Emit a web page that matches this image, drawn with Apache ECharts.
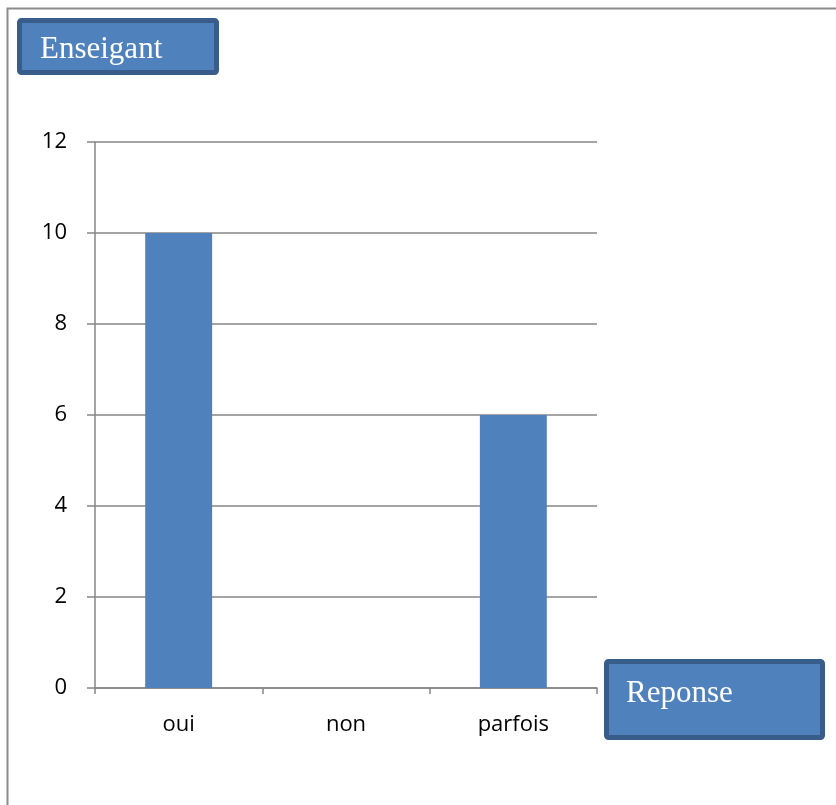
<!DOCTYPE html>
<html>
<head>
    <meta charset="utf-8">
    <title></title>
    <script type="text/javascript" src="https://cdn.jsdelivr.net/npm/echarts@6/dist/echarts.min.js"></script>
    <style>
        html, body { margin: 0; padding: 0; background: #fff; }
    </style>
</head>
<body>

<div id="main" style="width: 836px;height:805px;"></div>
<script type="text/javascript">
    // données
    var categories = ['oui', 'non', 'parfois'];
    var values = [10, 0, 6];
    var yTicks = [0, 2, 4, 6, 8, 10, 12];

    var axisGray = '#868686';
    var boxFill = '#4F81BD';
    var boxStroke = '#385D8A';

    var myChart = echarts.init(document.getElementById('main'));

    option = {
        animation: false,
        grid: {
            left: 95,
            top: 142,
            width: 502,
            height: 546
        },
        xAxis: {
            type: 'category',
            data: categories,
            axisLine: { lineStyle: { color: axisGray, width: 1.5 } },
            axisTick: { show: true, length: 6, lineStyle: { color: axisGray, width: 1.5 } },
            axisLabel: {
                margin: 26,
                color: '#000',
                fontFamily: 'Open Sans',
                fontSize: 22
            }
        },
        yAxis: {
            type: 'value',
            min: yTicks[0],
            max: yTicks[yTicks.length - 1],
            interval: 2,
            axisLine: { show: true, lineStyle: { color: axisGray, width: 1.5 } },
            axisTick: { show: true, length: 8, lineStyle: { color: axisGray, width: 1.5 } },
            splitLine: { lineStyle: { color: axisGray, width: 1.5 } },
            axisLabel: {
                margin: 28,
                color: '#000',
                fontFamily: 'Open Sans',
                fontSize: 22
            }
        },
        series: [{
            name: 'Enseigant',
            type: 'bar',
            data: values,
            barWidth: '40%',
            itemStyle: { color: boxFill }
        }],
        graphic: [
            // cadre
            {
                type: 'polyline',
                shape: { points: [[7.5, 805], [7.5, 8.5], [836, 8.5]] },
                style: { stroke: '#8c8c8c', lineWidth: 2, fill: null },
                z: 10
            },
            // boîte du titre
            {
                type: 'rect',
                shape: { x: 19.5, y: 20.5, width: 197, height: 52, r: 2 },
                style: { fill: boxFill, stroke: boxStroke, lineWidth: 5 },
                z: 10
            },
            {
                type: 'text',
                left: 40,
                top: 34,
                style: {
                    text: 'Enseigant',
                    fill: '#fff',
                    font: '31px "Liberation Serif"'
                },
                z: 11
            },
            // boîte de l'axe
            {
                type: 'rect',
                shape: { x: 606.5, y: 661.5, width: 216, height: 76, r: 2 },
                style: { fill: boxFill, stroke: boxStroke, lineWidth: 5 },
                z: 10
            },
            {
                type: 'text',
                left: 626,
                top: 678,
                style: {
                    text: 'Reponse',
                    fill: '#fff',
                    font: '31px "Liberation Serif"'
                },
                z: 11
            }
        ]
    };

    myChart.setOption(option);
</script>

</body>
</html>
